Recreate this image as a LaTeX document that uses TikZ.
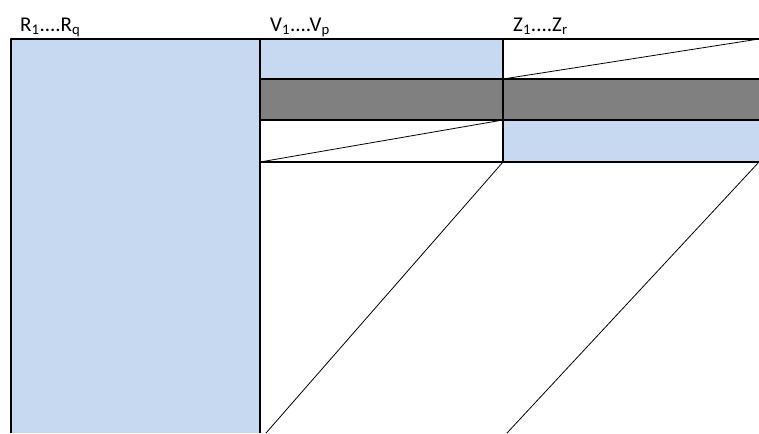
\documentclass[tikz,border=0pt]{standalone}
\usepackage{fontspec}
\setmainfont{Carlito}
\definecolor{paleblue}{HTML}{C6D9F1}
\definecolor{bargray}{HTML}{808080}
\begin{document}
\begin{tikzpicture}[x=1pt,y=-1pt,line join=round,font=\fontsize{21}{24}\selectfont,
	frame/.style={line width=1.6pt},diag/.style={line width=0.8pt},lab/.style={anchor=base west,inner sep=0pt}]
	\useasboundingbox (0,0) rectangle (759,433);
	\fill[paleblue] (11,39) rectangle (260,433) (260,39) rectangle (503,79) (503,120) rectangle (759,162);
	\fill[bargray] (260,79) rectangle (759,120);
	\draw[diag] (260,162)--(503,120) (503,79)--(759,39) (503,162)--(266,433) (759,162)--(507,433);
	\draw[frame] (11,433)--(11,39)--(759,39) (260,39)--(260,433) (503,39)--(503,162) (260,79)--(759,79) (260,120)--(759,120) (260,162)--(759,162);
	\node[lab] (labR) at (20,31.5) {R\textsubscript{1}....R\textsubscript{q}};
	\node[lab] (labV) at (270,31.5) {V\textsubscript{1}....V\textsubscript{p}};
	\node[lab] (labZ) at (513,31.5) {Z\textsubscript{1}....Z\textsubscript{r}};
\end{tikzpicture}
\end{document}
